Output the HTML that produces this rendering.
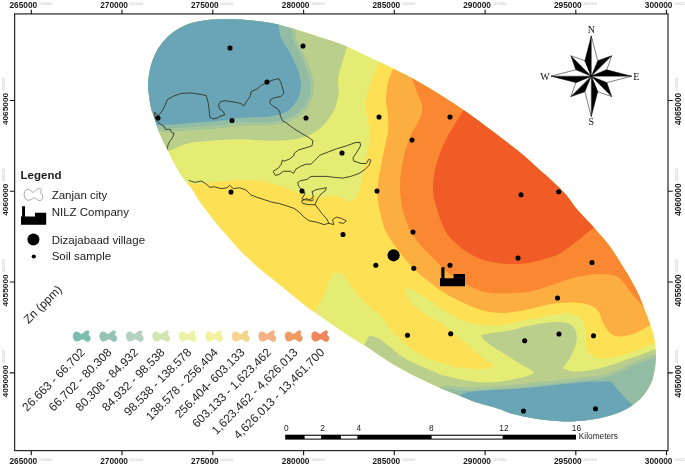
<!DOCTYPE html>
<html lang="en"><head><meta charset="utf-8"><title>Zn (ppm) map</title>
<style>
html,body{margin:0;padding:0;background:#fff;}
body{width:685px;height:465px;overflow:hidden;}
svg{display:block;}
text{font-family:"Liberation Sans",Arial,sans-serif;fill:#111;}
.tk{font-size:8.3px;font-weight:bold;fill:#1a1a1a;}
.tg{font-size:3.9px;font-weight:normal;fill:#c4c4c4;}
.lg{font-size:11.5px;fill:#1c1c1c;}
.sb{font-size:8.3px;fill:#1a1a1a;}
.cp{font-family:"Liberation Serif","Times New Roman",serif;font-size:10px;fill:#111;}
</style></head><body>
<svg width="685" height="465" viewBox="0 0 685 465">
<rect width="685" height="465" fill="#ffffff"/>
<defs><clipPath id="ell"><path d="M148,85C148.1,80.5 148.9,74.7 149.8,70.3C150.7,65.9 151.8,62.3 153.3,58.5C154.8,54.7 156.6,50.9 158.8,47.5C161,44.1 163.6,40.9 166.5,38C169.4,35.1 172.8,32.3 176.5,30C180.2,27.7 184.4,25.5 188.5,24C192.6,22.5 196.9,21.8 201,21C205.1,20.2 208.2,19.8 213,19.5C217.8,19.2 224.5,19.2 230,19.3C235.5,19.4 239.2,19.4 246,20C252.8,20.6 262.7,21.4 271,23C279.3,24.6 287.7,27.1 296,29.5C304.3,31.9 313.3,35 321,37.5C328.7,40 334.3,41.4 342,44.5C349.7,47.6 358.7,52.1 367,56C375.3,59.9 383.7,63.8 392,68C400.3,72.2 408.7,76.3 417,81C425.3,85.7 433.7,90.8 442,96C450.3,101.2 458.7,106.7 467,112.5C475.3,118.3 484.3,125.2 492,131C499.7,136.8 507.4,142.7 513,147C518.6,151.3 521.3,153.4 525.5,157C529.7,160.6 533.7,164.6 538,168.5C542.3,172.4 547,176.2 551.5,180.5C556,184.8 561,189.2 565.3,194C569.5,198.8 573,204.7 577,209.5C581,214.3 586.2,219.2 589.5,222.8C592.8,226.4 593.6,227.3 597,231.2C600.4,235.1 606,241.2 609.7,246.2C613.4,251.2 616.2,255.9 619.4,261C622.6,266.1 626.1,271.8 628.9,276.6C631.7,281.4 634,285.4 636.2,289.8C638.4,294.2 640.2,298.5 642,302.9C643.8,307.3 645.6,311.9 647.1,316.1C648.6,320.3 650.2,324.7 651.3,328C652.4,331.3 653.1,333.2 653.7,336C654.4,338.8 654.9,341.8 655.2,345C655.6,348.2 655.8,351.5 655.8,355C655.8,358.5 655.7,362.2 655.2,366C654.7,369.8 653.7,374.8 653,377.6C652.3,380.4 651.9,381 651,383C650.1,385 649.1,387.1 647.5,389.5C645.9,391.9 644,395 641.6,397.6C639.2,400.2 636.3,402.6 632.9,404.9C629.5,407.2 625.6,409.6 621.2,411.5C616.8,413.4 611.4,415.3 606.5,416.6C601.6,417.9 596.8,418.8 591.9,419.5C587,420.2 582.1,420.7 577.3,421C572.5,421.3 569.5,421.8 563,421.5C556.5,421.2 546.3,420.2 538,419C529.7,417.8 519.3,415.6 513,414C506.7,412.4 504.2,410.6 500,409.2C495.8,407.8 492.2,406.9 487.7,405.6C483.2,404.3 477.9,402.9 473,401.2C468.1,399.5 463.4,397.2 458.5,395.3C453.6,393.4 448.8,391.6 443.9,389.5C439,387.4 432.7,384.5 429.2,382.9C425.7,381.3 426.4,381.7 423,380C419.6,378.3 413.4,375.2 408.5,372.7C403.6,370.1 398.8,367.6 393.9,364.7C389,361.8 383.8,358.2 379.2,355.2C374.6,352.2 370.7,349.3 366.3,346.5C361.9,343.7 357.6,341.4 353,338.5C348.4,335.6 343.4,332.3 338.5,329C333.6,325.7 328.8,322.1 323.9,318.7C319,315.3 314.1,312.1 309.2,308.5C304.3,304.9 299.3,300.6 294.6,296.8C289.9,293 284.8,288.9 280.8,285.7C276.8,282.5 274.2,280.5 270.6,277.6C267,274.7 262.8,271.5 258.9,268.1C255,264.7 250.9,260.7 247.2,257.2C243.5,253.7 240.3,250.6 236.9,246.9C233.5,243.2 229.9,238.8 226.7,235.2C223.5,231.5 221,228.8 217.9,225C214.8,221.2 211.1,216.5 208,212.4C204.9,208.3 201.9,204.6 199.2,200.7C196.5,196.8 194.5,192.7 191.9,189C189.3,185.3 185.7,181.4 183.5,178.5C181.3,175.6 180.7,174.8 178.7,171.4C176.7,168 173.7,162.6 171.4,158.2C169.1,153.8 167,149.5 164.9,145.1C162.8,140.7 160.7,136.3 159,131.9C157.3,127.5 155.9,122.8 154.6,118.8C153.3,114.8 151.9,111.6 151,108C150.1,104.4 149.7,100.8 149.2,97C148.7,93.2 147.9,89.5 148,85Z"/></clipPath>
<path id="sw" d="M1.5,1.8C2.1,1.1 2.9,1 3.7,1.1C4.5,1.1 5.5,1.8 6.3,2.2C7.1,2.6 7.8,3.7 8.5,3.7C9.2,3.7 9.9,2.8 10.7,2.2C11.5,1.6 12.5,0.6 13.3,0.3C14.1,-0 15,-0 15.5,0.2C16,0.4 16.4,1.1 16.4,1.8C16.4,2.4 15.5,3.5 15.6,4.2C15.7,4.9 16.8,5.4 17.2,6.1C17.6,6.8 17.8,7.5 17.7,8.3C17.6,9.1 17.1,10.4 16.4,10.9C15.7,11.4 14.5,11.5 13.8,11.4C13,11.3 12.7,10.5 12,10.1C11.3,9.7 10.2,8.9 9.4,8.9C8.6,8.9 8,9.7 7.2,10.1C6.4,10.5 5.4,11 4.5,11.1C3.7,11.2 2.6,11 1.9,10.5C1.2,10 0.7,8.8 0.3,7.9C0,7 -0.2,5.8 0,4.8C0.2,3.8 0.9,2.4 1.5,1.8Z"/>
<filter id="soft" x="-2%" y="-2%" width="104%" height="104%"><feGaussianBlur stdDeviation="0.45"/></filter>
</defs>
<g filter="url(#soft)"><g clip-path="url(#ell)">
<rect x="140" y="10" width="530" height="420" fill="#e5ec73"/>
<path d="M349,44C348.7,44.5 347.8,44.8 347,47C346.2,49.2 345.2,53.2 344,57C342.8,60.8 341,66.2 340,70C339,73.8 338.2,76.4 338,80C337.8,83.6 338.9,87.8 338.7,91.7C338.4,95.6 337.6,99.8 336.5,103.4C335.4,107.1 334.1,110.2 332.1,113.6C330.2,117 327.5,121 324.8,123.9C322.1,126.8 319.4,129 316,131.2C312.6,133.4 308.7,135.5 304.3,137C299.9,138.5 295.6,139.4 289.7,140C283.8,140.6 275.1,140.7 269.2,140.7C263.3,140.7 259.5,140.2 254.6,140C249.7,139.8 245.6,139.2 240,139.2C234.4,139.2 228.3,139.5 221,140C213.7,140.5 202.2,141.2 196,142C189.8,142.8 187.7,143.7 183.5,145C179.3,146.3 174.9,148.5 171,150C167.1,151.5 161.8,153.3 160,154L120,150L120,0L350,0Z" fill="#bbcf8c"/>
<path d="M293,26C293.1,26.5 293,26.2 293.5,29C294,31.8 293.9,36.9 296,42.5C298.1,48.1 303.4,56.2 306,62.5C308.6,68.8 310.5,75.6 311.6,80C312.7,84.4 312.6,85.6 312.4,88.8C312.2,92 311.5,95.6 310.2,99C308.9,102.4 306.7,106.3 304.3,109.2C301.9,112.1 299,114.4 295.6,116.5C292.2,118.6 288.3,120.5 283.9,121.7C279.5,122.9 274.1,123.5 269.2,123.9C264.3,124.3 259.5,123.9 254.6,123.9C249.7,124 245.6,123.8 240,124.2C234.4,124.6 227.9,125.8 221,126.5C214.1,127.2 206.8,127.7 198.5,128.3C190.2,128.9 178.6,129.6 171,130C163.4,130.4 156,130.4 153,130.5L120,131L120,0L293,0Z" fill="#93bca5" stroke="#a6c59a" stroke-width="3.4"/>
<path d="M278,21C278.1,21.5 278,21.2 278.5,24C279,26.8 279.1,32.8 281,37.5C282.9,42.2 287.3,47.5 290,52.5C292.7,57.5 295.2,62.9 297,67.5C298.8,72.1 299.9,76.5 300.5,80C301.1,83.5 301,85.9 300.7,88.8C300.4,91.7 299.9,94.6 298.5,97.5C297.1,100.4 295,103.7 292.6,106.3C290.2,108.9 287.8,111.2 283.9,112.9C280,114.6 274.1,115.8 269.2,116.5C264.3,117.2 259.5,117 254.6,117.3C249.7,117.5 245.6,117.5 240,118C234.4,118.5 227.9,119.8 221,120.5C214.1,121.2 206.8,121.7 198.5,122.4C190.2,123.1 178.8,124.1 171,124.5C163.2,124.9 155.2,124.9 152,125L120,125L120,0L278,0Z" fill="#69a5b7"/>
<path d="M358,352C359,350.9 362.1,348.4 363.9,345.7C365.7,342.9 368.1,337.2 369,335.5C370.7,336 376.3,336.9 379.2,338.4C382.1,339.8 384.1,342.3 386.5,344.2C388.9,346.1 391.4,348 393.9,350C396.3,352 398.3,354 401.2,356C404.1,358 407.8,360 411.4,361.8C415,363.6 419.1,365.3 423,367C426.9,368.7 432,370.8 434.8,372C437.6,373.2 436.7,373.4 440,374.4C443.3,375.4 449.7,376.9 454.6,378C459.5,379.1 464.3,380.3 469.2,381C474.1,381.7 479,382.3 483.9,382.4C488.8,382.5 493.6,382.2 498.5,381.7C503.4,381.2 508.1,380.5 513,379.5C517.9,378.5 524.2,376.9 527.7,375.8C531.2,374.7 533.2,373.4 534.3,372.9C533.4,372.2 531,369.8 529,368.5C527,367.2 525.1,366.7 522,364.9C518.9,363.1 514.1,359.9 510.2,357.5C506.3,355.1 501.9,352.4 498.5,350.2C495.1,348 492.1,346.1 489.7,344.4C487.3,342.7 485.3,341.6 483.9,340C482.4,338.4 481.5,335.8 481,335C483.1,334.6 488.9,333.5 493.7,332.7C498.5,331.9 504.1,331.6 510,330.4C515.9,329.2 523,326.9 528.8,325.7C534.6,324.4 539.5,323.5 545,322.9C550.5,322.3 557.2,321.9 561.5,322.2C565.8,322.5 568.5,323.1 570.8,324.5C573.1,325.9 574.5,327.9 575.5,330.4C576.5,332.9 576.9,336.6 576.7,339.7C576.5,342.8 575.5,345.9 574.3,349C573.1,352.1 571.5,355.5 569.7,358.4C568,361.3 565,365 563.8,366.6C562.6,368.2 562.7,367.8 562.5,368C564.2,368.6 568.8,371.1 573,371.5C577.2,371.9 583,371.2 588,370.5C593,369.8 597.7,368.9 603,367.5C608.3,366.1 614.3,363.9 620,362C625.7,360.1 631.2,358.1 637,356C642.8,353.9 650.3,351 654.5,349.5C658.7,348 660.8,347.4 662,347L700,350L700,470L300,470Z" fill="#bbcf8c"/>
<path d="M438,391C439,390.4 441.2,388.1 444,387.6C446.8,387.1 450.4,387.8 454.6,388C458.8,388.2 464.3,388.9 469.2,389C474.1,389.1 479,388.6 483.9,388.4C488.8,388.2 493.6,387.9 498.5,387.6C503.4,387.3 508.2,386.9 513,386.5C517.8,386.1 522.5,385.5 527,385C531.5,384.5 535.3,384 540,383.5C544.7,383 550,382.5 555,382C560,381.5 565,380.9 570,380.3C575,379.7 580.1,379.2 585,378.6C589.9,378.1 594.7,378 599.6,377C604.5,376 609.3,374.6 614.2,372.8C619.1,371 624,368.1 628.9,366C633.8,363.9 639.1,361.6 643.5,360C647.9,358.4 652.1,357.1 655.2,356.2C658.3,355.3 660.9,354.8 662,354.5L700,355L700,470L400,470Z" fill="#93bca5" stroke="#a6c59a" stroke-width="3.4"/>
<path d="M453,399C454,398.4 456.5,396.7 459.2,395.5C461.9,394.3 465.1,392.8 469.2,392C473.3,391.2 479,390.9 483.9,390.5C488.8,390.1 493.6,389.9 498.5,389.7C503.4,389.4 508.2,389.3 513,389C517.8,388.7 522.5,388.4 527,388C531.5,387.6 534.5,387.4 540,386.8C545.5,386.2 551.7,385.3 560,384.5C568.3,383.7 581.8,382.3 590,381.8C598.2,381.3 605.8,381.6 609,381.6C609.6,381.8 611.2,381.9 612.5,383C613.8,384.1 615.1,386.1 616.5,387.9C617.9,389.6 619.2,391.5 621,393.5C622.8,395.5 625,398 627,400C629,402 631.2,403.8 633,405.5C634.8,407.2 637.2,409.2 638,410L640,440L450,440Z" fill="#69a5b7"/>
<path d="M381,59C380.8,59.6 381,59 379.5,62.5C378,66 374.2,73.8 372,80C369.8,86.2 366.8,94 366,100C365.2,106 366.4,110.8 367,116C367.6,121.2 369.3,125.6 369.5,131C369.7,136.4 368.8,142.7 368,148.5C367.2,154.3 365.7,160.2 364.5,166C363.3,171.8 362.2,178.5 361,183.5C359.8,188.5 358.9,193.1 357,196C355.1,198.9 352,200.7 349.5,201C347,201.3 344.7,198.9 342,198C339.3,197.1 337,195.7 333.5,195.5C330,195.3 326.4,197.3 321,197C315.6,196.7 307.2,195.2 301,193.5C294.8,191.8 289.3,188.9 283.5,187C277.7,185.1 272.2,183.2 266,182C259.8,180.8 253.5,180.1 246,180C238.5,179.9 229.3,180.8 221,181.5C212.7,182.2 201.8,183.9 196,184C190.2,184.1 189,182.8 186,182C183,181.2 179.3,179.5 178,179C181.7,199.2 196.3,279.8 200,300C218.7,302.7 293.3,313.3 312,316C312.4,315.2 313.1,313.5 314.4,311.4C315.6,309.3 317.7,306.7 319.5,303.4C321.3,300.1 323.6,295.6 325.3,291.7C327,287.8 328.5,282.8 329.7,280C330.9,277.2 331.2,276.3 332.5,275C333.8,273.7 335.8,272.3 337.5,272.3C339.2,272.3 341.4,273.7 343,275C344.6,276.3 345.6,277.7 347.3,280C349,282.3 350.6,285.6 353,288.8C355.4,292 359,295.8 361.9,299C364.8,302.2 367.6,305.1 370.6,307.8C373.6,310.6 377.4,312.8 380,315.5C382.6,318.2 384.2,321 386.5,323.8C388.8,326.6 391.4,329.8 393.9,332.5C396.3,335.2 398.8,337.6 401.2,339.9C403.6,342.2 406.1,344.5 408.5,346.4C410.9,348.3 412.9,349.7 415.8,351.5C418.7,353.3 422.4,355.7 426,357.4C429.6,359.1 433.7,360.5 437.7,361.8C441.7,363.1 447.2,364.5 450,365.4C452.8,366.3 451.4,366.5 454.6,367C457.8,367.5 464.3,368.2 469.2,368.5C474.1,368.8 479.5,368.9 483.9,368.5C488.3,368.1 493.7,366.7 495.6,366.3C494.1,365.4 489.4,362.8 486.7,361C484,359.2 482.4,357.8 479.7,355.5C477,353.2 473.9,349.9 470.4,347C466.9,344.1 462.1,340.8 458.7,338C455.3,335.2 452.9,332.5 450,330C447.1,327.5 444.3,325.1 441,323C437.7,320.9 433.3,319.4 430,317.4C426.7,315.4 424.5,313.9 421,311C417.5,308.1 411.8,303.7 409,300C406.2,296.3 405.2,290.8 404.5,289L404.5,288.5C406.2,288.9 410.5,289 414.6,291C418.7,293 424.3,297.2 429.2,300.5C434.1,303.8 439,307.7 443.9,310.7C448.8,313.7 453.6,316.6 458.5,318.7C463.4,320.8 468.1,322.4 473,323.5C477.9,324.6 483.2,325.2 487.7,325.5C492.2,325.8 495.8,325.9 500,325.5C504.2,325.1 508.3,324 513,323C517.7,322 523,320.6 528,319.5C533,318.4 538,317.4 543,316.5C548,315.6 553.4,314.5 558,314C562.6,313.5 566.8,312.8 570.5,313.5C574.2,314.2 578.1,315.8 580.5,318C582.9,320.2 584.1,323.4 585,327C585.9,330.6 585.7,335.8 586,339.5C586.3,343.2 585.6,346.1 587,349C588.4,351.9 590.7,355.4 594.4,356.9C598.1,358.4 604.4,358.3 609.4,357.9C614.4,357.5 619.4,356.1 624.4,354.7C629.4,353.3 634.5,351.3 639.5,349.3C644.5,347.3 650.8,344.4 654.5,342.9C658.2,341.3 660.8,340.5 662,340L700,300L700,0L385,0Z" fill="#fee054"/>
<path d="M394,66C393.8,66.5 394,66.2 393,69C392,71.8 389.2,77.3 388,82.5C386.8,87.7 386,94.4 386,100C386,105.6 387.7,110.8 388,116C388.3,121.2 388.6,125.6 388,131C387.4,136.4 385.7,142.7 384.5,148.5C383.3,154.3 382.1,160.2 381,166C379.9,171.8 378.5,177.7 378,183.5C377.5,189.3 377.5,195.6 378,201C378.5,206.4 379.7,210.8 381,216C382.3,221.2 382.9,226 386,232C389.1,238 394.8,245.8 399.5,252C404.2,258.2 409.5,264.5 414.5,269.5C419.5,274.5 424.1,277.8 429.5,282C434.9,286.2 440.8,290.8 447,294.5C453.2,298.2 460.8,301.8 467,304.5C473.2,307.2 478.7,309.6 484.5,311C490.3,312.4 497.2,312.8 502,313C506.8,313.2 508.7,312.6 513,312C517.3,311.4 523,310.6 528,309.5C533,308.4 538,306.8 543,305.7C548,304.6 553,303.5 558,303C563,302.5 568,302.2 573,302.5C578,302.8 583.8,303.1 588,304.5C592.2,305.9 595.7,308.2 598,310.7C600.3,313.2 600.4,316.6 601.7,319.5C603,322.4 604.4,325.6 606,328C607.6,330.4 609.2,332.6 611.4,334C613.6,335.4 616.2,336.3 619.4,336.4C622.6,336.5 627.2,335.7 630.7,334.8C634.2,333.9 636.8,332.6 640.3,330.8C643.8,329 650,325.1 652,324L700,300L700,0L395,0Z" fill="#fdae40"/>
<path d="M411,76C411.2,76.5 410.8,75.8 412,79C413.2,82.2 416.3,90.7 418,95C419.7,99.3 421.5,101.5 422,105C422.5,108.5 422.5,111.7 421,116C419.5,120.3 415.5,125.6 413,131C410.5,136.4 407.8,142.7 406,148.5C404.2,154.3 403,160.2 402,166C401,171.8 400.2,177.7 400,183.5C399.8,189.3 400.2,195.6 401,201C401.8,206.4 402.8,210.8 404.5,216C406.2,221.2 408.1,226.8 411,232C413.9,237.2 418.1,242.4 422,247C425.9,251.6 430.3,255.3 434.5,259.5C438.7,263.7 442.4,268.2 447,272C451.6,275.8 457,279.1 462,282C467,284.9 472,287.7 477,289.5C482,291.3 486,292.4 492,293C498,293.6 507,293.2 513,293C519,292.8 523,292.8 528,292C533,291.2 538,289.5 543,288C548,286.5 553,284.7 558,283C563,281.3 568,279.3 573,278C578,276.7 583,275.7 588,275C593,274.3 598.4,273.9 603,274C607.6,274.1 612.2,274.4 615.5,275.7C618.8,277 620.5,279.3 623,282C625.5,284.7 628,288.9 630.5,292C633,295.1 635.8,298.2 638,300.7C640.2,303.2 643,305.9 644,307L700,300L700,0L411,0Z" fill="#fa8832"/>
<path d="M465,108C464.7,108.5 464.8,108.1 463,111C461.2,113.9 456.9,120.6 454,125.5C451.1,130.4 448.2,135 445.5,140.5C442.8,146 439.9,152.6 438,158.5C436.1,164.4 434.8,170.6 434,176C433.2,181.4 432.7,186 433,191C433.3,196 434.7,201 436,206C437.3,211 439.3,216.7 441,221C442.7,225.3 443.8,228.5 446,232C448.2,235.5 451,238.7 454.5,242C458,245.3 462.4,249.1 467,252C471.6,254.9 477,257.7 482,259.5C487,261.3 491.8,262.2 497,263C502.2,263.8 507.8,264 513,264C518.2,264 523,263.8 528,263C533,262.2 538,260.9 543,259.5C548,258.1 553.4,256.8 558,254.5C562.6,252.2 566.8,248.7 570.5,246C574.2,243.3 577.6,240.8 580.5,238.5C583.4,236.2 585.7,233.8 588,232C590.3,230.2 592.3,229 594.5,227.5C596.7,226 599.9,223.8 601,223L700,225L700,0L465,0Z" fill="#f15b25"/>
<g fill="none" stroke="#2f3422" stroke-width="0.9" stroke-linejoin="round">
<path d="M154.5,111.9L158.2,116L162.3,110.9L165.3,104.7L167.4,99.6L172.5,96.6L180.7,93.5L190.9,92.9L201.1,94.5L206.2,95.5L208.2,102.7L209.3,110.9L209.7,117L213.4,119L217.4,118L220.5,116L224.6,115L223.6,111.9L219.5,108.8L218.5,104.7L220.5,101.7L224.6,100.7L231.7,101.7L237.9,102.7L240.9,103.7L244,105.8L247.1,100.7L250.1,96.6L251.2,91.5L256.3,89.4L261.4,85.3L267.5,82.3L272.6,80.2L278.8,78.6L280.8,82.3L282.8,88.4L283.9,93.5L280.8,96.6L274.7,97.6L270.6,99.6L269.6,102.7L272.6,105.8L277.7,108.8L279.8,111.9L280.3,116.1L282.8,121.1L285.4,122.3L293.6,128.4L301.8,133.5L308.9,137.6L313,140.7L312,145.8L305.9,147.8L298.7,149.9L294.6,152.9L293.6,156L289.5,159L284.4,161.1L282.4,160.1L281.3,164.2L278.3,168.2L273.2,171.3L275.2,175.4L279.3,174.4L283.4,171.3L290.5,171.3L293.6,173.4L295.7,169.3L300.8,166.2L305.9,164.2L311,164.2L315.1,160.1L320.2,155L328.4,151.9L336.5,148.8L346.7,145.8L354.9,142.7L360,142.3L360.6,145.8L357,151.9L352.9,158L353.9,161.1L361.1,163.5L366.2,163.5L369.2,159L370.9,160.1L369.2,165.2L365.1,169.3L359,173.4L350.8,176.4L342.7,178.1L334.5,177.4L326.3,176.4L318.1,176.4L311,176.4L306.9,179.5L300.8,180.5L297.7,182.6L298.7,186.6L301.8,189.7L304.9,192.8L303.8,195.8L301.8,198.9L304.9,199.9L308.9,199.9L313,197.9L313,194.8L312,191.7L316.1,189.7L321.2,188.7L326.3,187.7L325.3,190.7L321.2,193.8L318.1,197.9L316.1,202L315.2,204.7L319,209.7L322.7,214.6L326.4,218.3L328.9,223.3"/>
<path d="M154.5,111.9L155.1,117L157.2,121.1L160.2,124.2L164.3,126.2L165.3,129.3L170.4,129.3L171.5,132.3L174.1,133.4L172.5,137.4L170.4,140.5L168.4,143.6L167.4,147.7L166.5,150"/>
<path d="M188.7,180.4L194.9,182.4L201.1,181.1L204.8,182.9L209.8,187.3L214.7,186.8L220.9,188.6L227.1,187.8L229.6,185.3L233.3,188.6L239.6,187.8L245.8,189.8L250.7,194.8L256.9,197.3L264.4,199.7L271.8,202.2L279.3,203.5L286.7,205.9L294.1,208.4L299.1,212.1L304.1,217.1L309,220.8L316.5,222.1L323.9,224.6L328.9,223.3L333.8,224.6L332.6,219.6L336.3,217.1L341.3,218.3L346.3,220.8L343.8,223.3L338.8,222.6"/>
<path d="M315.2,204.7L309,204.7L302.8,203.5L301.6,201L306.6,198.5L310.3,201L314,199.7"/>
</g>
</g></g>
<g fill="#000">
<circle cx="230" cy="48" r="2.55"/>
<circle cx="303" cy="46" r="2.55"/>
<circle cx="267" cy="82" r="2.55"/>
<circle cx="158" cy="118" r="2.55"/>
<circle cx="232" cy="120.5" r="2.55"/>
<circle cx="306" cy="118" r="2.55"/>
<circle cx="379" cy="117" r="2.55"/>
<circle cx="450" cy="117" r="2.55"/>
<circle cx="412" cy="140" r="2.55"/>
<circle cx="342" cy="153" r="2.55"/>
<circle cx="231" cy="192" r="2.55"/>
<circle cx="302" cy="191" r="2.55"/>
<circle cx="377" cy="191" r="2.55"/>
<circle cx="521" cy="194.7" r="2.55"/>
<circle cx="558.7" cy="191.7" r="2.55"/>
<circle cx="343" cy="234.5" r="2.55"/>
<circle cx="413" cy="232" r="2.55"/>
<circle cx="375.8" cy="265.2" r="2.55"/>
<circle cx="413.8" cy="268.2" r="2.55"/>
<circle cx="450" cy="265.2" r="2.55"/>
<circle cx="518" cy="258" r="2.55"/>
<circle cx="592" cy="262.5" r="2.55"/>
<circle cx="557.5" cy="298" r="2.55"/>
<circle cx="407.5" cy="335.2" r="2.55"/>
<circle cx="450.7" cy="333.8" r="2.55"/>
<circle cx="524.7" cy="340.7" r="2.55"/>
<circle cx="559" cy="334" r="2.55"/>
<circle cx="593.5" cy="335.7" r="2.55"/>
<circle cx="523.5" cy="411" r="2.55"/>
<circle cx="595.5" cy="408.8" r="2.55"/>
<circle cx="393.6" cy="255.3" r="6.1"/>
<path d="M440,286.3V278.3H441.3V267.3H444.5V278.3H453.6V273.9H465V286.3Z"/>
</g>
<rect x="14.6" y="13.9" width="653.4" height="436.7" fill="none" stroke="#2b2b2b" stroke-width="1.25"/>
<g stroke="#1a1a1a" stroke-width="1.15">
<path d="M31.3,13.9 V9.7 M31.3,450.6 V455.2"/>
<path d="M122,13.9 V9.7 M122,450.6 V455.2"/>
<path d="M212.8,13.9 V9.7 M212.8,450.6 V455.2"/>
<path d="M303.6,13.9 V9.7 M303.6,450.6 V455.2"/>
<path d="M394.3,13.9 V9.7 M394.3,450.6 V455.2"/>
<path d="M485.1,13.9 V9.7 M485.1,450.6 V455.2"/>
<path d="M575.8,13.9 V9.7 M575.8,450.6 V455.2"/>
<path d="M666.5,13.9 V9.7 M666.5,450.6 V455.2"/>
<path d="M14.6,100.5 H9.8 M668,100.5 H672.8"/>
<path d="M14.6,191.2 H9.8 M668,191.2 H672.8"/>
<path d="M14.6,282 H9.8 M668,282 H672.8"/>
<path d="M14.6,372.8 H9.8 M668,372.8 H672.8"/>
</g>
<text class="tk" x="9.5" y="7.5">265000<tspan class="tg" dx="1.2" dy="-3">.000000</tspan></text>
<text class="tk" x="9.5" y="463.6">265000<tspan class="tg" dx="1.2" dy="-3">.000000</tspan></text>
<text class="tk" x="100.2" y="7.5">270000<tspan class="tg" dx="1.2" dy="-3">.000000</tspan></text>
<text class="tk" x="100.2" y="463.6">270000<tspan class="tg" dx="1.2" dy="-3">.000000</tspan></text>
<text class="tk" x="191" y="7.5">275000<tspan class="tg" dx="1.2" dy="-3">.000000</tspan></text>
<text class="tk" x="191" y="463.6">275000<tspan class="tg" dx="1.2" dy="-3">.000000</tspan></text>
<text class="tk" x="281.8" y="7.5">280000<tspan class="tg" dx="1.2" dy="-3">.000000</tspan></text>
<text class="tk" x="281.8" y="463.6">280000<tspan class="tg" dx="1.2" dy="-3">.000000</tspan></text>
<text class="tk" x="372.5" y="7.5">285000<tspan class="tg" dx="1.2" dy="-3">.000000</tspan></text>
<text class="tk" x="372.5" y="463.6">285000<tspan class="tg" dx="1.2" dy="-3">.000000</tspan></text>
<text class="tk" x="463.2" y="7.5">290000<tspan class="tg" dx="1.2" dy="-3">.000000</tspan></text>
<text class="tk" x="463.2" y="463.6">290000<tspan class="tg" dx="1.2" dy="-3">.000000</tspan></text>
<text class="tk" x="554" y="7.5">295000<tspan class="tg" dx="1.2" dy="-3">.000000</tspan></text>
<text class="tk" x="554" y="463.6">295000<tspan class="tg" dx="1.2" dy="-3">.000000</tspan></text>
<text class="tk" x="644.8" y="7.5">300000<tspan class="tg" dx="1.2" dy="-3">.000000</tspan></text>
<text class="tk" x="644.8" y="463.6">300000<tspan class="tg" dx="1.2" dy="-3">.000000</tspan></text>
<text class="tk" transform="translate(7.5,125.1) rotate(-90) scale(1,0.94)">4065000<tspan class="tg" dx="1.2" dy="-3">.000000</tspan></text>
<text class="tk" transform="translate(681.2,125.1) rotate(-90)">4065000<tspan class="tg" dx="1.2" dy="-3">.000000</tspan></text>
<text class="tk" transform="translate(7.5,215.8) rotate(-90) scale(1,0.94)">4060000<tspan class="tg" dx="1.2" dy="-3">.000000</tspan></text>
<text class="tk" transform="translate(681.2,215.8) rotate(-90)">4060000<tspan class="tg" dx="1.2" dy="-3">.000000</tspan></text>
<text class="tk" transform="translate(7.5,306.6) rotate(-90) scale(1,0.94)">4055000<tspan class="tg" dx="1.2" dy="-3">.000000</tspan></text>
<text class="tk" transform="translate(681.2,306.6) rotate(-90)">4055000<tspan class="tg" dx="1.2" dy="-3">.000000</tspan></text>
<text class="tk" transform="translate(7.5,397.4) rotate(-90) scale(1,0.94)">4050000<tspan class="tg" dx="1.2" dy="-3">.000000</tspan></text>
<text class="tk" transform="translate(681.2,397.4) rotate(-90)">4050000<tspan class="tg" dx="1.2" dy="-3">.000000</tspan></text>
<text class="lg" x="20.6" y="179" style="font-weight:bold">Legend</text>
<use href="#sw" transform="translate(24.2,188.3) scale(1.05,1.07)" fill="#fff" stroke="#7f7f7f" stroke-width="0.65"/>
<text class="lg" x="51.7" y="199">Zanjan city</text>
<path d="M21,224.8V216.6H22.1V206.3H25V216.6H35V212.7H46.2V224.8Z" fill="#000"/>
<text class="lg" x="51.7" y="216">NILZ Company</text>
<circle cx="33.4" cy="239.6" r="6" fill="#000"/>
<text class="lg" x="51.7" y="243.5">Dizajabaad village</text>
<circle cx="33.8" cy="256.5" r="2.1" fill="#000"/>
<text class="lg" x="51.7" y="260.3">Soil sample</text>
<text class="lg" style="font-size:11.85px" transform="translate(28.5,324.2) rotate(-45)">Zn (ppm)</text>
<use href="#sw" x="72.9" y="330.4" fill="#7dbcb0"/>
<text class="lg" style="font-size:11.85px" text-anchor="end" transform="translate(85.7,353.2) rotate(-45)">26.663 - 66.702</text>
<use href="#sw" x="99.4" y="330.4" fill="#96c3b5"/>
<text class="lg" style="font-size:11.85px" text-anchor="end" transform="translate(112.3,353.2) rotate(-45)">66.702 - 80.308</text>
<use href="#sw" x="125.9" y="330.4" fill="#b4d1c1"/>
<text class="lg" style="font-size:11.85px" text-anchor="end" transform="translate(138.9,353.2) rotate(-45)">80.308 - 84.932</text>
<use href="#sw" x="152.4" y="330.4" fill="#d5e3b3"/>
<text class="lg" style="font-size:11.85px" text-anchor="end" transform="translate(165.5,353.2) rotate(-45)">84.932 - 98.538</text>
<use href="#sw" x="178.9" y="330.4" fill="#ecf3a6"/>
<text class="lg" style="font-size:11.85px" text-anchor="end" transform="translate(192.1,353.2) rotate(-45)">98.538 - 138.578</text>
<use href="#sw" x="205.4" y="330.4" fill="#f3f0a0"/>
<text class="lg" style="font-size:11.85px" text-anchor="end" transform="translate(218.7,353.2) rotate(-45)">138.578 - 256.404</text>
<use href="#sw" x="231.9" y="330.4" fill="#f6d48e"/>
<text class="lg" style="font-size:11.85px" text-anchor="end" transform="translate(245.3,353.2) rotate(-45)">256.404- 603.133</text>
<use href="#sw" x="258.4" y="330.4" fill="#f2b283"/>
<text class="lg" style="font-size:11.85px" text-anchor="end" transform="translate(271.9,353.2) rotate(-45)">603.133 - 1,623.462</text>
<use href="#sw" x="284.9" y="330.4" fill="#f19b62"/>
<text class="lg" style="font-size:11.85px" text-anchor="end" transform="translate(298.5,353.2) rotate(-45)">1,623.462 - 4,626.013</text>
<use href="#sw" x="311.4" y="330.4" fill="#f0845b"/>
<text class="lg" style="font-size:11.85px" text-anchor="end" transform="translate(325.1,353.2) rotate(-45)">4,626.013 - 13,461.700</text>
<rect x="285.2" y="434.7" width="290.8" height="4.9" fill="#000"/>
<rect x="304.6" y="435.8" width="16.5" height="2.8" fill="#fff"/>
<rect x="340.9" y="435.8" width="16.5" height="2.8" fill="#fff"/>
<rect x="431.6" y="435.8" width="71" height="2.8" fill="#fff"/>
<text class="sb" text-anchor="middle" x="286.2" y="430.8">0</text>
<text class="sb" text-anchor="middle" x="322.5" y="430.8">2</text>
<text class="sb" text-anchor="middle" x="358.8" y="430.8">4</text>
<text class="sb" text-anchor="middle" x="431.3" y="430.8">8</text>
<text class="sb" text-anchor="middle" x="503.9" y="430.8">12</text>
<text class="sb" text-anchor="middle" x="576.4" y="430.8">16</text>
<text class="sb" x="578.8" y="438.9">Kilometers</text>
<g stroke="#000" stroke-width="0.5" stroke-linejoin="miter">
<path d="M591.3,76.2 L597.7,60.7 L611.7,55.8 Z" fill="#000"/>
<path d="M591.3,76.2 L606.8,69.8 L611.7,55.8 Z" fill="#fff"/>
<path d="M591.3,76.2 L606.8,82.6 L611.7,96.6 Z" fill="#000"/>
<path d="M591.3,76.2 L597.7,91.7 L611.7,96.6 Z" fill="#fff"/>
<path d="M591.3,76.2 L584.9,91.7 L570.9,96.6 Z" fill="#000"/>
<path d="M591.3,76.2 L575.8,82.6 L570.9,96.6 Z" fill="#fff"/>
<path d="M591.3,76.2 L575.8,69.8 L570.9,55.8 Z" fill="#000"/>
<path d="M591.3,76.2 L584.9,60.7 L570.9,55.8 Z" fill="#fff"/>
<path d="M591.3,76.2 L584.9,60.7 L591.3,35.9 Z" fill="#000"/>
<path d="M591.3,76.2 L597.7,60.7 L591.3,35.9 Z" fill="#fff"/>
<path d="M591.3,76.2 L606.8,69.8 L631.6,76.2 Z" fill="#000"/>
<path d="M591.3,76.2 L606.8,82.6 L631.6,76.2 Z" fill="#fff"/>
<path d="M591.3,76.2 L597.7,91.7 L591.3,116.5 Z" fill="#000"/>
<path d="M591.3,76.2 L584.9,91.7 L591.3,116.5 Z" fill="#fff"/>
<path d="M591.3,76.2 L575.8,82.6 L551,76.2 Z" fill="#000"/>
<path d="M591.3,76.2 L575.8,69.8 L551,76.2 Z" fill="#fff"/>
</g>
<text class="cp" text-anchor="middle" x="591.3" y="33.4">N</text>
<text class="cp" text-anchor="middle" x="591.3" y="125.4">S</text>
<text class="cp" text-anchor="middle" x="544.9" y="79.8">W</text>
<text class="cp" text-anchor="middle" x="636.2" y="79.8">E</text>
</svg>
</body></html>
